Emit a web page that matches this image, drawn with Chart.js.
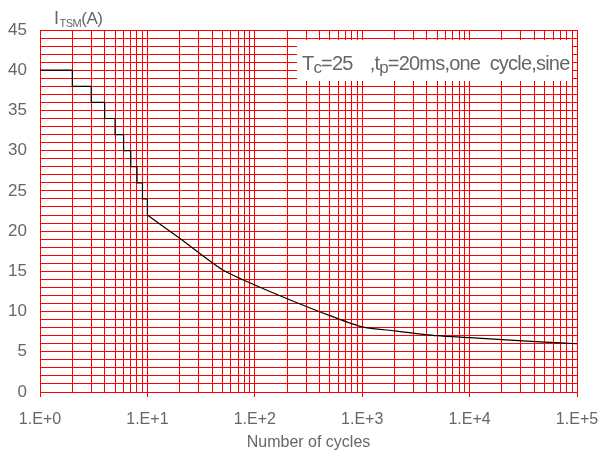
<!DOCTYPE html>
<html>
<head>
<meta charset="utf-8">
<script src="https://cdn.jsdelivr.net/npm/chart.js@4/dist/chart.umd.min.js"></script>
<style>
  html, body { margin: 0; padding: 0; background: #ffffff; }
  #wrap { width: 601px; height: 455px; }
</style>
</head>
<body>
<div id="wrap"><canvas id="surge" width="601" height="455"></canvas></div>
<script>
// Surge current vs. number of cycles
const stepCycles   = [1, 2, 3, 4, 5, 6, 7, 8, 9, 10];
const stepCurrent  = [40, 38, 36, 34, 32, 30, 28, 26, 24, 22];
const curveCycles  = [10, 20, 50, 100, 200, 500, 1000, 2000, 5000, 10000, 20000, 50000, 100000];
const curveCurrent = [22, 19.1, 15.2, 13.3, 11.6, 9.5, 8.1, 7.6, 7.0, 6.75, 6.5, 6.2, 6.0];

// Axis ticks
const xDecades     = [1, 10, 100, 1000, 10000, 100000];
const xMultipliers = [1, 2, 3, 4, 5, 6, 7, 8, 9];
const yMin = 0, yMax = 45, yLabelEvery = 5;

const xTitle = 'Number of cycles';
const yTitle = { main: 'I', sub: 'TSM', unit: '(A)' };
const noteParts = [
  { text: 'T', sub: false },
  { text: 'c', sub: true },
  { text: '=25', sub: false },
  { gap: 17 },
  { text: ',t', sub: false },
  { text: 'p', sub: true },
  { text: '=20ms,one  cycle,sine', sub: false }
];

const FONT = '"Liberation Sans", Arial, sans-serif';
const TEXT = '#666666';
const GRID = '#ff0000';

const xGridValues = [];
xDecades.forEach((d, i) => {
  if (i === xDecades.length - 1) { xGridValues.push(d); return; }
  xMultipliers.forEach(m => xGridValues.push(d * m));
});
const yGridValues = [];
for (let v = yMin; v <= yMax; v++) yGridValues.push(v);

const isDecade = v => Math.abs(Math.log10(v) - Math.round(Math.log10(v))) < 1e-9;

const labelsPlugin = {
  id: 'labels',
  afterDraw(chart) {
    const ctx = chart.ctx;
    const area = chart.chartArea;
    ctx.save();
    ctx.fillStyle = TEXT;
    ctx.textBaseline = 'alphabetic';
    ctx.textAlign = 'left';

    // y-axis caption with subscript
    let x = area.left + 14;
    const yb = 24;
    ctx.letterSpacing = '-0.5px';
    ctx.font = '18px ' + FONT;
    ctx.fillText(yTitle.main, x, yb);
    x += ctx.measureText(yTitle.main).width + 1;
    ctx.font = '11px ' + FONT;
    ctx.fillText(yTitle.sub, x, yb + 3);
    x += ctx.measureText(yTitle.sub).width;
    ctx.font = '17px ' + FONT;
    ctx.fillText(yTitle.unit, x, yb);

    // condition note box
    const bx = 297, by = 40, bw = 275, bh = 41;
    ctx.fillStyle = '#ffffff';
    ctx.fillRect(bx, by, bw, bh);
    ctx.fillStyle = TEXT;
    x = bx + 5;
    const base = 70;
    ctx.letterSpacing = '-0.8px';
    noteParts.forEach(p => {
      if (p.gap) { x += p.gap; return; }
      ctx.font = (p.sub ? '17px ' : '20px ') + FONT;
      ctx.fillText(p.text, x, p.sub ? base + 3 : base);
      x += ctx.measureText(p.text).width;
    });
    ctx.restore();
  }
};

new Chart(document.getElementById('surge'), {
  type: 'line',
  data: {
    datasets: [
      {
        data: stepCycles.map((c, i) => ({ x: c, y: stepCurrent[i] })),
        stepped: true,
        borderColor: '#000000',
        borderWidth: 1.2,
        pointRadius: 0,
        fill: false
      },
      {
        data: curveCycles.map((c, i) => ({ x: c, y: curveCurrent[i] })),
        tension: 0.25,
        borderColor: '#000000',
        borderWidth: 1.2,
        pointRadius: 0,
        fill: false
      }
    ]
  },
  options: {
    responsive: false,
    animation: false,
    devicePixelRatio: 1,
    layout: { padding: { top: 30, right: 0, left: 0, bottom: 0 } },
    plugins: { legend: { display: false }, tooltip: { enabled: false } },
    scales: {
      x: {
        type: 'logarithmic',
        min: 1,
        max: 100000,
        afterBuildTicks(s) { s.ticks = xGridValues.map(v => ({ value: v })); },
        afterFit(s) { s.height = 63; s.paddingRight = 24; s.paddingLeft = 0; },
        ticks: {
          autoSkip: false,
          maxRotation: 0,
          minRotation: 0,
          padding: 13,
          color: TEXT,
          font: { family: FONT, size: 16 },
          callback: v => isDecade(v) ? '1.E+' + Math.round(Math.log10(v)) : ''
        },
        grid: {
          color: GRID,
          lineWidth: 1,
          tickLength: 5,
          tickColor: c => (c.tick && isDecade(c.tick.value)) ? GRID : 'rgba(0,0,0,0)'
        },
        border: { color: GRID, width: 1 },
        title: {
          display: true,
          text: xTitle,
          color: TEXT,
          font: { family: FONT, size: 16 },
          padding: { top: 0, bottom: 3 }
        }
      },
      y: {
        min: yMin,
        max: yMax,
        afterBuildTicks(s) { s.ticks = yGridValues.map(v => ({ value: v })); },
        afterFit(s) { s.width = 40; },
        ticks: {
          autoSkip: false,
          padding: 13,
          color: TEXT,
          font: { family: FONT, size: 17 },
          callback: v => v % yLabelEvery === 0 ? String(v) : ''
        },
        grid: { color: GRID, lineWidth: 1, drawTicks: false },
        border: { color: GRID, width: 1 }
      }
    }
  },
  plugins: [labelsPlugin]
});
</script>
</body>
</html>
